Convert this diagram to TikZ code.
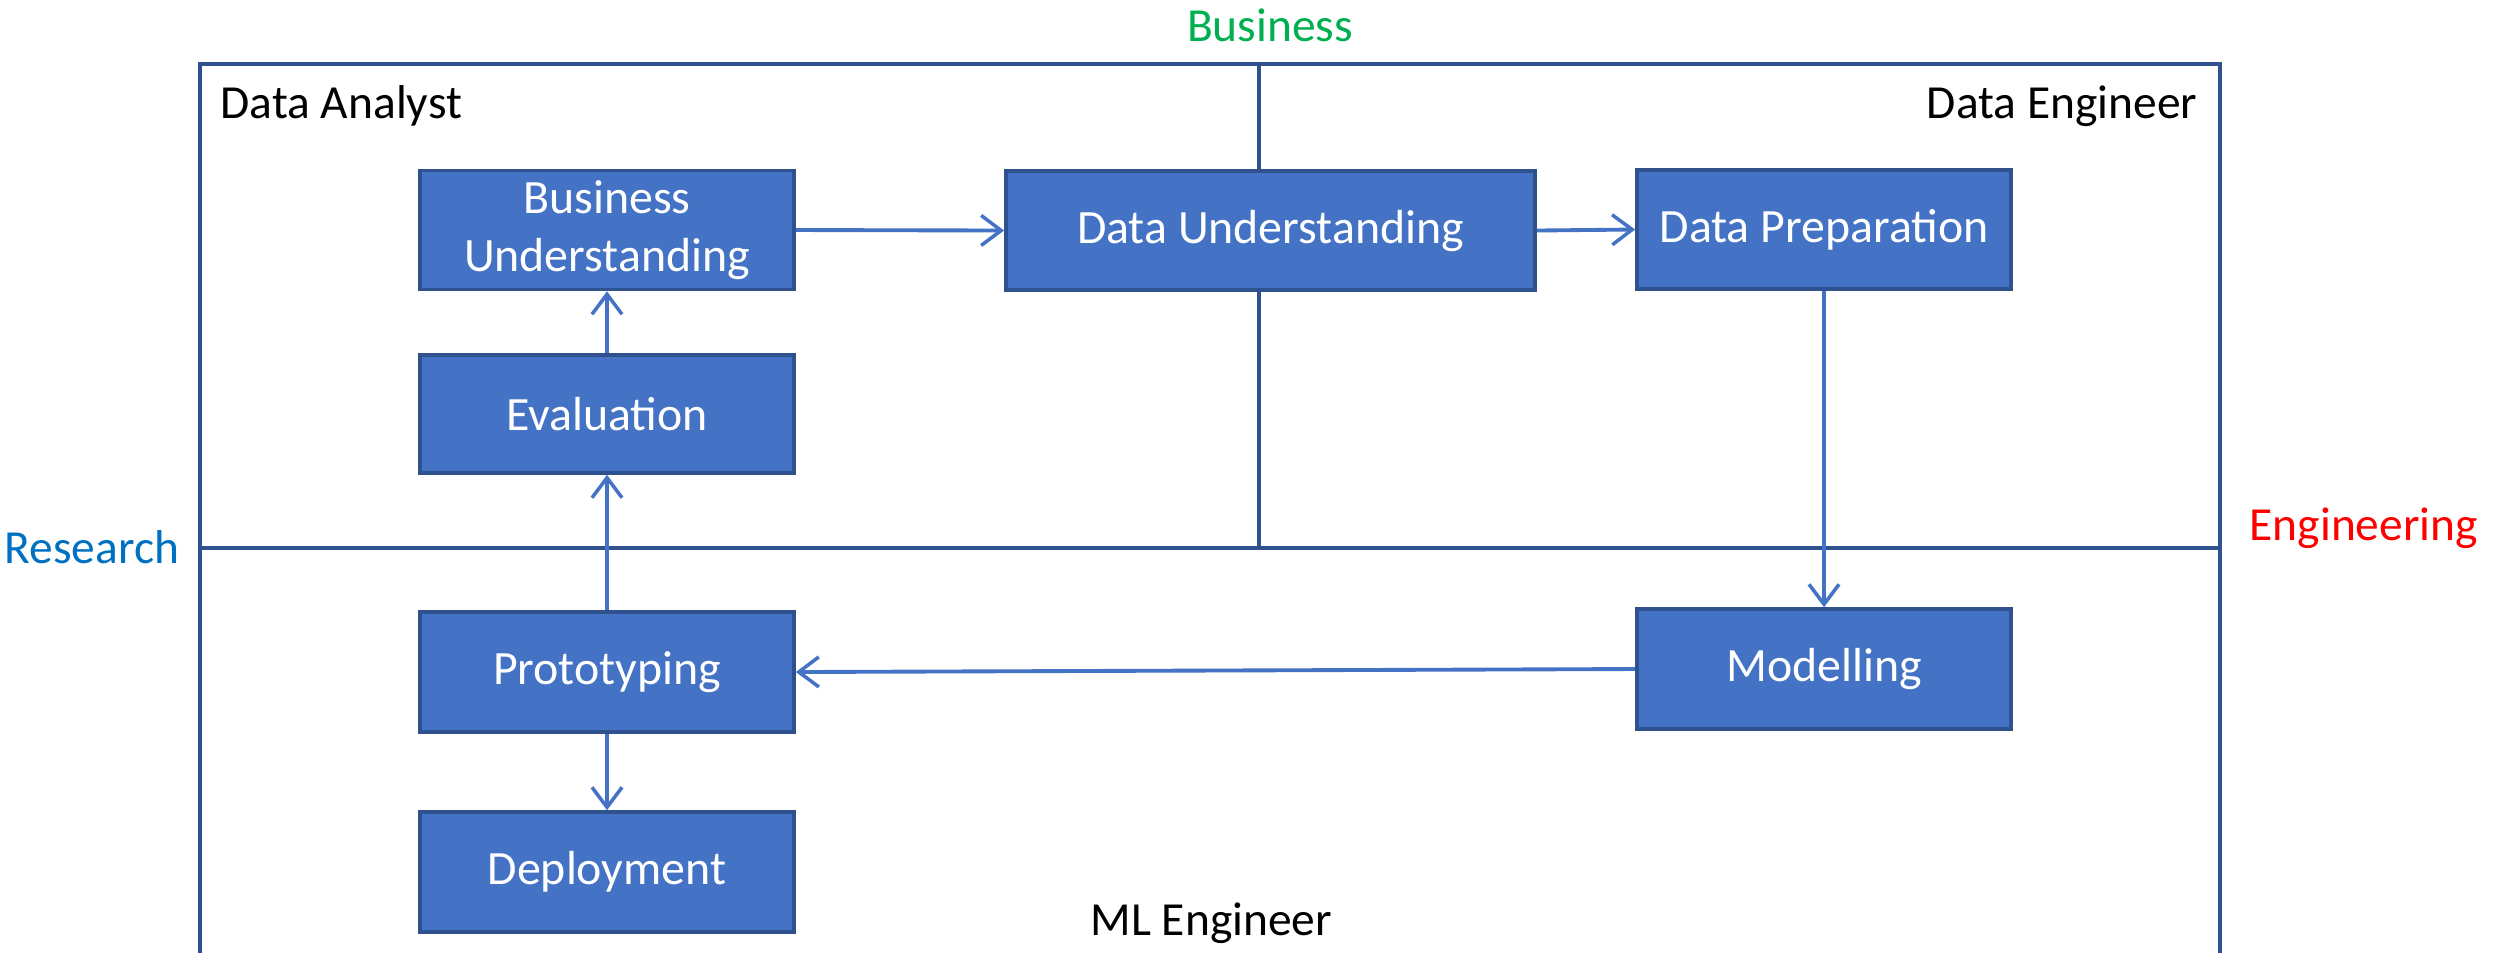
\documentclass[tikz,border=0pt]{standalone}
\usepackage{fontspec}
\setmainfont{Carlito}
\usetikzlibrary{arrows.meta}
\definecolor{boxfill}{HTML}{4472C4}
\definecolor{boxline}{HTML}{2F528F}
\definecolor{bizgreen}{HTML}{00B050}
\definecolor{resblue}{HTML}{0070C0}
\definecolor{engred}{HTML}{FF0000}
\tikzset{
  x=0.01cm, y=-0.01cm,
  lbl/.style={font=\fontsize{13.5}{16}\selectfont, inner sep=0pt},
  stepbox/.style={draw=boxline, fill=boxfill, line width=1pt, minimum width=3.74cm, minimum height=1.19cm,
    text=white, align=center, inner sep=0pt, font=\fontsize{13.6}{16.5}\selectfont},
  frameline/.style={draw=boxline, line width=0.9pt},
  flow/.style={draw=boxfill, line width=1.1pt, -{Straight Barb[length=0.2cm, width=0.3cm, line width=1pt]}},
}
\begin{document}
\begin{tikzpicture}
\useasboundingbox (0,0) rectangle (2504,953);
% frame
\coordinate (fbl) at (200,953);
\coordinate (ftl) at (200,64);
\coordinate (ftr) at (2220,64);
\coordinate (fbr) at (2220,953);
\coordinate (ml) at (200,548);
\coordinate (mr) at (2220,548);
\coordinate (vt) at (1259,64);
\coordinate (vb) at (1259,548);
\draw[frameline] (fbl) -- (ftl) -- (ftr) -- (fbr);
\draw[frameline] (ml) -- (mr);
\draw[frameline] (vt) -- (vb);
% labels
\node[lbl, text=bizgreen, anchor=base] (biz) at (1270,41) {Business};
\node[lbl, text=resblue, anchor=base west] (res) at (4,563) {Research};
\node[lbl, text=engred, anchor=base west] (eng) at (2249,540) {Engineering};
\node[lbl, anchor=base west] (da) at (220,118) {Data Analyst};
\node[lbl, anchor=base east] (de) at (2198,118) {Data Engineer};
\node[lbl, anchor=base west] (mle) at (1090,935) {ML Engineer};
% boxes
\node[stepbox] (bu) at (607,230) {Business\\Understanding};
\node[stepbox, minimum width=5.29cm] (du) at (1270.5,230.5) {\raisebox{-2pt}{Data Understanding}};
\node[stepbox] (dp) at (1824,229.5) {\raisebox{-2pt}{Data Preparation}};
\node[stepbox, minimum height=1.18cm] (ev) at (607,414) {Evaluation};
\node[stepbox, minimum height=1.20cm] (pr) at (607,672) {\raisebox{-1pt}{Prototyping}};
\node[stepbox, minimum height=1.20cm] (dep) at (607,872) {\raisebox{-1pt}{Deployment}};
\node[stepbox, minimum height=1.20cm] (mo) at (1824,669) {\raisebox{-1pt}{Modelling}};
% arrows
\draw[flow] (bu.east) -- (du.west);
\draw[flow] (du.east) -- (dp.west);
\draw[flow] (dp.south) -- (mo.north);
\draw[flow] (mo.west) -- (pr.east);
\draw[flow] (pr.north) -- (ev.south);
\draw[flow] (ev.north) -- (bu.south);
\draw[flow] (pr.south) -- (dep.north);
\end{tikzpicture}
\end{document}
